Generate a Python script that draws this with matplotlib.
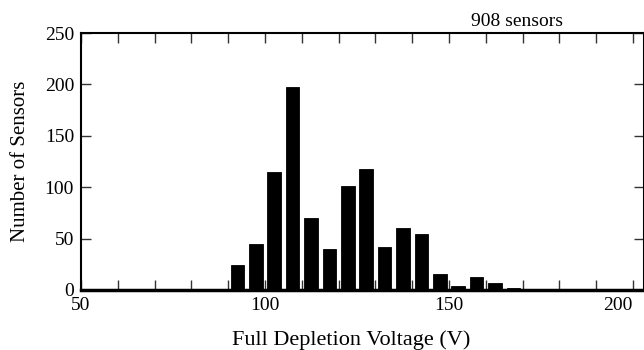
import numpy as np
import matplotlib
matplotlib.use("Agg")
import matplotlib.pyplot as plt

# bins of 5 V, centres 92.5 ... 167.5
bin_centres = np.arange(92.5, 170, 5.0)
counts = [24, 45, 115, 197, 70, 40, 101, 118, 42, 60, 54, 16, 4, 13, 7, 2]
x_major = [50, 100, 150, 200]
y_major = [0, 50, 100, 150, 200, 250]
n_sensors = 908

plt.rcParams["font.family"] = ["Liberation Serif", "DejaVu Serif"]

fig = plt.figure(figsize=(6.44, 3.5), dpi=100)
ax = fig.add_axes([81 / 644, 60 / 350, 1 - 81 / 644, 257 / 350])

ax.bar(bin_centres, counts, width=3.7, color="black", edgecolor="black", linewidth=0.6)

ax.set_xlim(50, 203)
ax.set_ylim(0, 250)
ax.set_xticks(x_major)
ax.set_xticks(np.arange(50, 210, 10), minor=True)
ax.set_yticks(y_major)

ax.tick_params(axis="both", which="both", direction="in", top=True, right=True,
               labelsize=14, width=1.0, color="#333333")
ax.tick_params(axis="both", which="major", length=7, pad=5)
ax.tick_params(axis="x", which="minor", length=7)

# last label would run off the right edge
ax.get_xticklabels()[-1].set_horizontalalignment("right")

for side in ["top", "left", "right"]:
    ax.spines[side].set_linewidth(1.5)
ax.spines["bottom"].set_linewidth(2.5)

ax.set_xlabel("Full Depletion Voltage (V)", fontsize=16)
ax.set_ylabel("Number of Sensors", fontsize=15)
ax.xaxis.set_label_coords(0.48, -0.155)
ax.yaxis.set_label_coords(-0.09, 0.5)

ax.text(0.775, 1.01, f"{n_sensors} sensors", transform=ax.transAxes,
        ha="center", va="bottom", fontsize=14)

fig.savefig("out.png", dpi=100)
